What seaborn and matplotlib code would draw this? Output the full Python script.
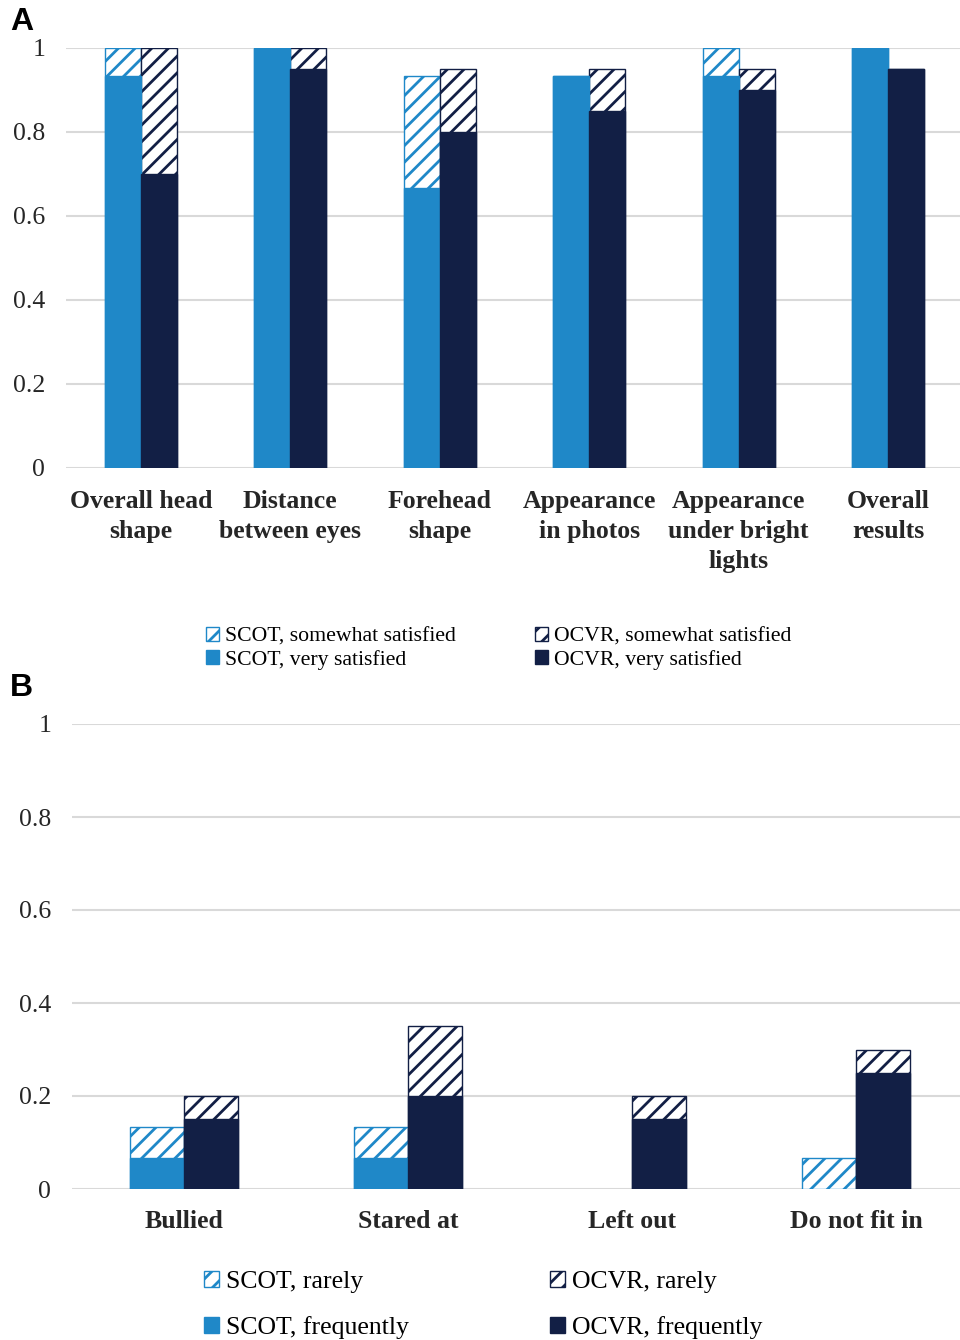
import numpy as np
import pandas as pd
import matplotlib
matplotlib.use("Agg")
import matplotlib.pyplot as plt
from matplotlib.patches import Patch
from matplotlib.ticker import FuncFormatter
import seaborn as sns

# ---- Panel A: satisfaction with outcome ----
sat_items = ["Overall head\nshape", "Distance\nbetween eyes", "Forehead\nshape",
             "Appearance\nin photos", "Appearance\nunder bright\nlights", "Overall\nresults"]
scot_very = [0.933, 1.0, 0.667, 0.933, 0.933, 1.0]
scot_somewhat = [0.067, 0.0, 0.267, 0.0, 0.067, 0.0]
ocvr_very = [0.70, 0.95, 0.80, 0.85, 0.90, 0.95]
ocvr_somewhat = [0.30, 0.05, 0.15, 0.10, 0.05, 0.0]
sat_labels = ["SCOT, somewhat satisfied", "SCOT, very satisfied",
              "OCVR, somewhat satisfied", "OCVR, very satisfied"]

# ---- Panel B: social experiences ----
exp_items = ["Bullied", "Stared at", "Left out", "Do not fit in"]
scot_frequent = [0.067, 0.067, 0.0, 0.0]
scot_rare = [0.067, 0.067, 0.0, 0.067]
ocvr_frequent = [0.15, 0.20, 0.15, 0.25]
ocvr_rare = [0.05, 0.15, 0.05, 0.05]
exp_labels = ["SCOT, rarely", "SCOT, frequently", "OCVR, rarely", "OCVR, frequently"]

yticks = [0, 0.2, 0.4, 0.6, 0.8, 1.0]
groups = ["SCOT", "OCVR"]
BLUE = "#1F88C8"
NAVY = "#121F45"
colors = [BLUE, NAVY]

sns.set_style("white")
plt.rcParams["font.family"] = ["Liberation Serif", "DejaVu Serif"]
plt.rcParams["hatch.linewidth"] = 2.0
plt.rcParams["text.color"] = "black"


def stacked_pair(ax, cats, lower, upper, width, xpad, linespacing):
    n = len(cats)
    df = pd.DataFrame({
        "item": list(cats) * 2,
        "group": [groups[0]] * n + [groups[1]] * n,
        "lower": list(lower[0]) + list(lower[1]),
        "total": [a + b for a, b in zip(lower[0], upper[0])]
                 + [a + b for a, b in zip(lower[1], upper[1])],
    })
    pal = dict(zip(groups, colors))
    # full stack height, drawn hatched
    sns.barplot(data=df, x="item", y="total", hue="group", order=cats, hue_order=groups,
                palette=pal, saturation=1, width=width, errorbar=None, legend=False,
                linewidth=1, ax=ax)
    for cont, col in zip(ax.containers[:2], colors):
        for bar in cont:
            bar.set_facecolor("white")
            bar.set_edgecolor(col)
            bar.set_hatch("//")
            if bar.get_height() <= 0:
                bar.set_visible(False)
    # solid lower segment on top
    sns.barplot(data=df, x="item", y="lower", hue="group", order=cats, hue_order=groups,
                palette=pal, saturation=1, width=width, errorbar=None, legend=False,
                linewidth=1, ax=ax)
    for cont, col in zip(ax.containers[2:4], colors):
        for bar in cont:
            bar.set_edgecolor(col)
            if bar.get_height() <= 0:
                bar.set_visible(False)

    ax.set_xlim(-0.5, n - 0.5)
    ax.set_ylim(0, 1.0)
    ax.set_yticks(yticks)
    ax.yaxis.set_major_formatter(FuncFormatter(lambda v, p: f"{v:g}"))
    ax.set_xlabel("")
    ax.set_ylabel("")
    ax.yaxis.grid(True, color="#D9D9D9", linewidth=1.5)
    ax.xaxis.grid(False)
    ax.set_axisbelow(True)
    for s in ax.spines.values():
        s.set_visible(False)
    ax.tick_params(axis="y", length=0, pad=15, labelsize=18.5)
    ax.tick_params(axis="x", length=0, pad=xpad, labelsize=18.5)
    for t in ax.get_xticklabels():
        t.set_fontweight("bold")
        t.set_linespacing(linespacing)


def legend_handles(labels):
    return [
        Patch(facecolor="white", edgecolor=BLUE, hatch="//", linewidth=1, label=labels[0]),
        Patch(facecolor=BLUE, edgecolor=BLUE, label=labels[1]),
        Patch(facecolor="white", edgecolor=NAVY, hatch="//", linewidth=1, label=labels[2]),
        Patch(facecolor=NAVY, edgecolor=NAVY, label=labels[3]),
    ]


fig = plt.figure(figsize=(9.6, 13.4), dpi=100)
W, H = 960, 1340

axA = fig.add_axes([66 / W, 1 - 468 / H, (963 - 66) / W, 420 / H])
stacked_pair(axA, sat_items, [scot_very, ocvr_very], [scot_somewhat, ocvr_somewhat],
             width=0.48, xpad=16, linespacing=1.38)

axB = fig.add_axes([72 / W, 1 - 1189 / H, 896 / W, 465 / H])
stacked_pair(axB, exp_items, [scot_frequent, ocvr_frequent], [scot_rare, ocvr_rare],
             width=0.48, xpad=15, linespacing=1.2)

fig.legend(handles=legend_handles(sat_labels), ncol=2, loc="upper left",
           bbox_to_anchor=(206 / W, 1 - 627 / H), frameon=False, fontsize=15.7,
           handlelength=0.6, handleheight=0.6, handletextpad=0.25,
           columnspacing=3.65, labelspacing=0.14, borderpad=0, borderaxespad=0)

fig.legend(handles=legend_handles(exp_labels), ncol=2, loc="upper left",
           bbox_to_anchor=(204 / W, 1 - 1271 / H), frameon=False, fontsize=18.5,
           handlelength=0.6, handleheight=0.6, handletextpad=0.25,
           columnspacing=5.5, labelspacing=0.88, borderpad=0, borderaxespad=0)

fig.text(10 / W, 1 - 22 / H, "A", family=["Liberation Sans", "DejaVu Sans"],
         fontweight="bold", fontsize=23, va="center", ha="left")
fig.text(10 / W, 1 - 688 / H, "B", family=["Liberation Sans", "DejaVu Sans"],
         fontweight="bold", fontsize=23, va="center", ha="left")

fig.savefig("out.png", dpi=100, facecolor="white")
